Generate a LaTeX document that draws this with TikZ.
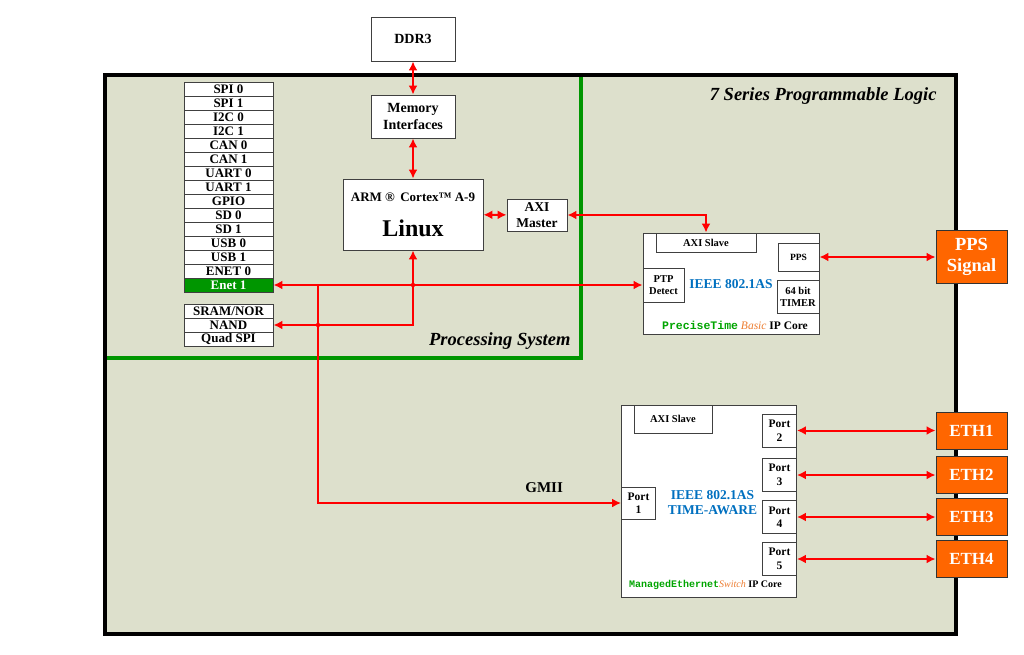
\documentclass[tikz,border=0pt]{standalone}
\usepackage{fontspec}
\setmainfont{Liberation Serif}
\setmonofont{Liberation Mono}
\usetikzlibrary{arrows.meta}
\definecolor{plfill}{RGB}{221,224,204}
\definecolor{psgreen}{RGB}{0,150,0}
\definecolor{orng}{RGB}{255,102,0}
\definecolor{ieeeblue}{RGB}{0,112,192}
\definecolor{monogreen}{RGB}{0,165,0}
\definecolor{basicorng}{RGB}{237,125,49}

\begin{document}
\begin{tikzpicture}[x=1pt,y=-1pt,
    box/.style={draw=black!75, line width=0.9pt, fill=white, inner sep=0pt, align=center, font=\bfseries\fontsize{13}{14}\selectfont},
    cell/.style={box, minimum width=89pt, minimum height=14pt},
    small/.style={box, font=\bfseries\fontsize{10.5}{12}\selectfont},
    portbox/.style={box, minimum width=34pt, minimum height=33pt, font=\bfseries\fontsize{11.5}{13.5}\selectfont},
    extbox/.style={draw=black!80, line width=0.9pt, fill=orng, text=white, align=center, inner sep=0pt, minimum width=71pt, font=\bfseries\fontsize{17}{21}\selectfont},
    title/.style={anchor=east, font=\bfseries\itshape\fontsize{18.5}{19}\selectfont},
    redtip/.tip={Latex[length=9pt,width=9pt]},
    link/.style={red, line width=2pt, redtip-redtip}]
    \useasboundingbox (0,0) rectangle (1024,655);
        \draw[line width=4pt, fill=plfill] (105,75) rectangle (956,634); % logica programmabile
        \draw[psgreen, line width=4pt] (107,358) -- (581,358) -- (581,77); % confine del processing system
        \node[title] (pltitle) at (940,96) {7 Series Programmable Logic};
        \node[title] (pstitle) at (574,341) {Processing System};
        \foreach \lbl [count=\i] in {SPI 0,SPI 1,I2C 0,I2C 1,CAN 0,CAN 1,UART 0,UART 1,GPIO,SD 0,SD 1,USB 0,USB 1,ENET 0}
            \node[cell] (per\i) at (228.5,75+14*\i) {\lbl}; % periferiche
        \node[cell, fill=psgreen, text=white] (enet1) at (228.5,285) {Enet 1};
        \foreach \lbl [count=\i] in {SRAM/NOR,NAND,Quad SPI}
            \node[cell] (fl\i) at (228.5,297+14*\i) {\lbl}; % memorie statiche
        \node[box, minimum width=84pt, minimum height=44pt, font=\bfseries\fontsize{14}{15}\selectfont] (ddr) at (413,39) {DDR3};
        \node[box, minimum width=84pt, minimum height=43pt, font=\bfseries\fontsize{14}{17}\selectfont] (memif) at (413,116.5) {Memory\\Interfaces};
        \node[box, minimum width=140pt, minimum height=71pt] (arm) at (413,214.5) {ARM ® \,Cortex™ A-9\\[17pt]{\fontsize{24}{24}\selectfont Linux}};
        \node[box, minimum width=60pt, minimum height=32pt, font=\bfseries\fontsize{13.5}{16}\selectfont] (axim) at (537,215) {AXI\\Master};
        % core PreciseTime
        \node[box, minimum width=176pt, minimum height=101pt] (ptp) at (731,283.5) {};
        \node[small, minimum width=100pt, minimum height=19pt] (ptpaxi) at (706,242.5) {AXI Slave};
        \node[small, minimum width=41pt, minimum height=28pt, font=\bfseries\fontsize{9.5}{11}\selectfont] (pps) at (798.5,257) {PPS};
        \node[small, minimum width=41pt, minimum height=34pt] (ptpdet) at (663.5,285) {PTP\\Detect};
        \node[small, minimum width=42pt, minimum height=33pt] (timer) at (798,296.5) {64 bit\\TIMER};
        \node[text=ieeeblue, font=\bfseries\fontsize{13.5}{15}\selectfont] (ptpname) at (731,284) {IEEE 802.1AS};
        \node[font=\bfseries\fontsize{11.5}{13}\selectfont] (ptpcore) at (735,325) {{\ttfamily\color{monogreen}PreciseTime} {\itshape\mdseries\color{basicorng}Basic} IP Core};
        \node[extbox, minimum height=53pt, font=\bfseries\fontsize{18.5}{21}\selectfont] (ppssig) at (971.5,256.5) {PPS\\Signal};
        % core switch
        \node[box, minimum width=175pt, minimum height=192pt] (sw) at (708.5,501) {};
        \node[small, minimum width=78pt, minimum height=28pt] (swaxi) at (673,419) {AXI Slave};
        \node[portbox, minimum height=32pt] (port1) at (638.5,503) {Port\\1};
        \foreach \y [count=\i from 2] in {430.5,475,517,559}
            \node[portbox] (port\i) at (779.5,\y) {Port\\\i};
        \foreach \y [count=\i] in {430.5,475,517,559}
            \node[extbox, minimum height=37pt] (eth\i) at (971.5,\y) {ETH\i};
        \node[text=ieeeblue, font=\bfseries\fontsize{13.5}{15}\selectfont, align=center] (swname) at (712.5,503) {IEEE 802.1AS\\TIME-AWARE};
        \node[font=\bfseries\fontsize{10}{11}\selectfont] (swcore) at (705.5,585) {{\ttfamily\color{monogreen}ManagedEthernet}{\itshape\mdseries\color{basicorng}Switch} IP Core};
        % collegamenti
        \draw[link] (ddr) -- (memif);
        \draw[link] (memif) -- (arm);
        \draw[link] (arm) -- (axim);
        \draw[link] (axim.east) -| (ptpaxi.north);
        \draw[link] (enet1.east) -- (ptpdet.west);
        \draw[link] (arm.south) |- (fl2.east);
        \coordinate (gmii) at (318,285);
        \draw[red, line width=2pt, -redtip] (gmii) |- (port1.west) node[pos=0.873, above=6pt, black, font=\bfseries\fontsize{15}{15}\selectfont] {GMII};
        \fill[red] (arm.south |- enet1) circle (2.2pt); % incrocio
        \fill[red] (gmii |- fl2) circle (2.2pt); % incrocio
        \draw[link] (pps) -- (pps -| ppssig.west);
        \foreach \i in {1,...,4}
            \draw[link] (port\the\numexpr\i+1\relax.east) -- (eth\i.west);
    \end{tikzpicture}
\end{document}
